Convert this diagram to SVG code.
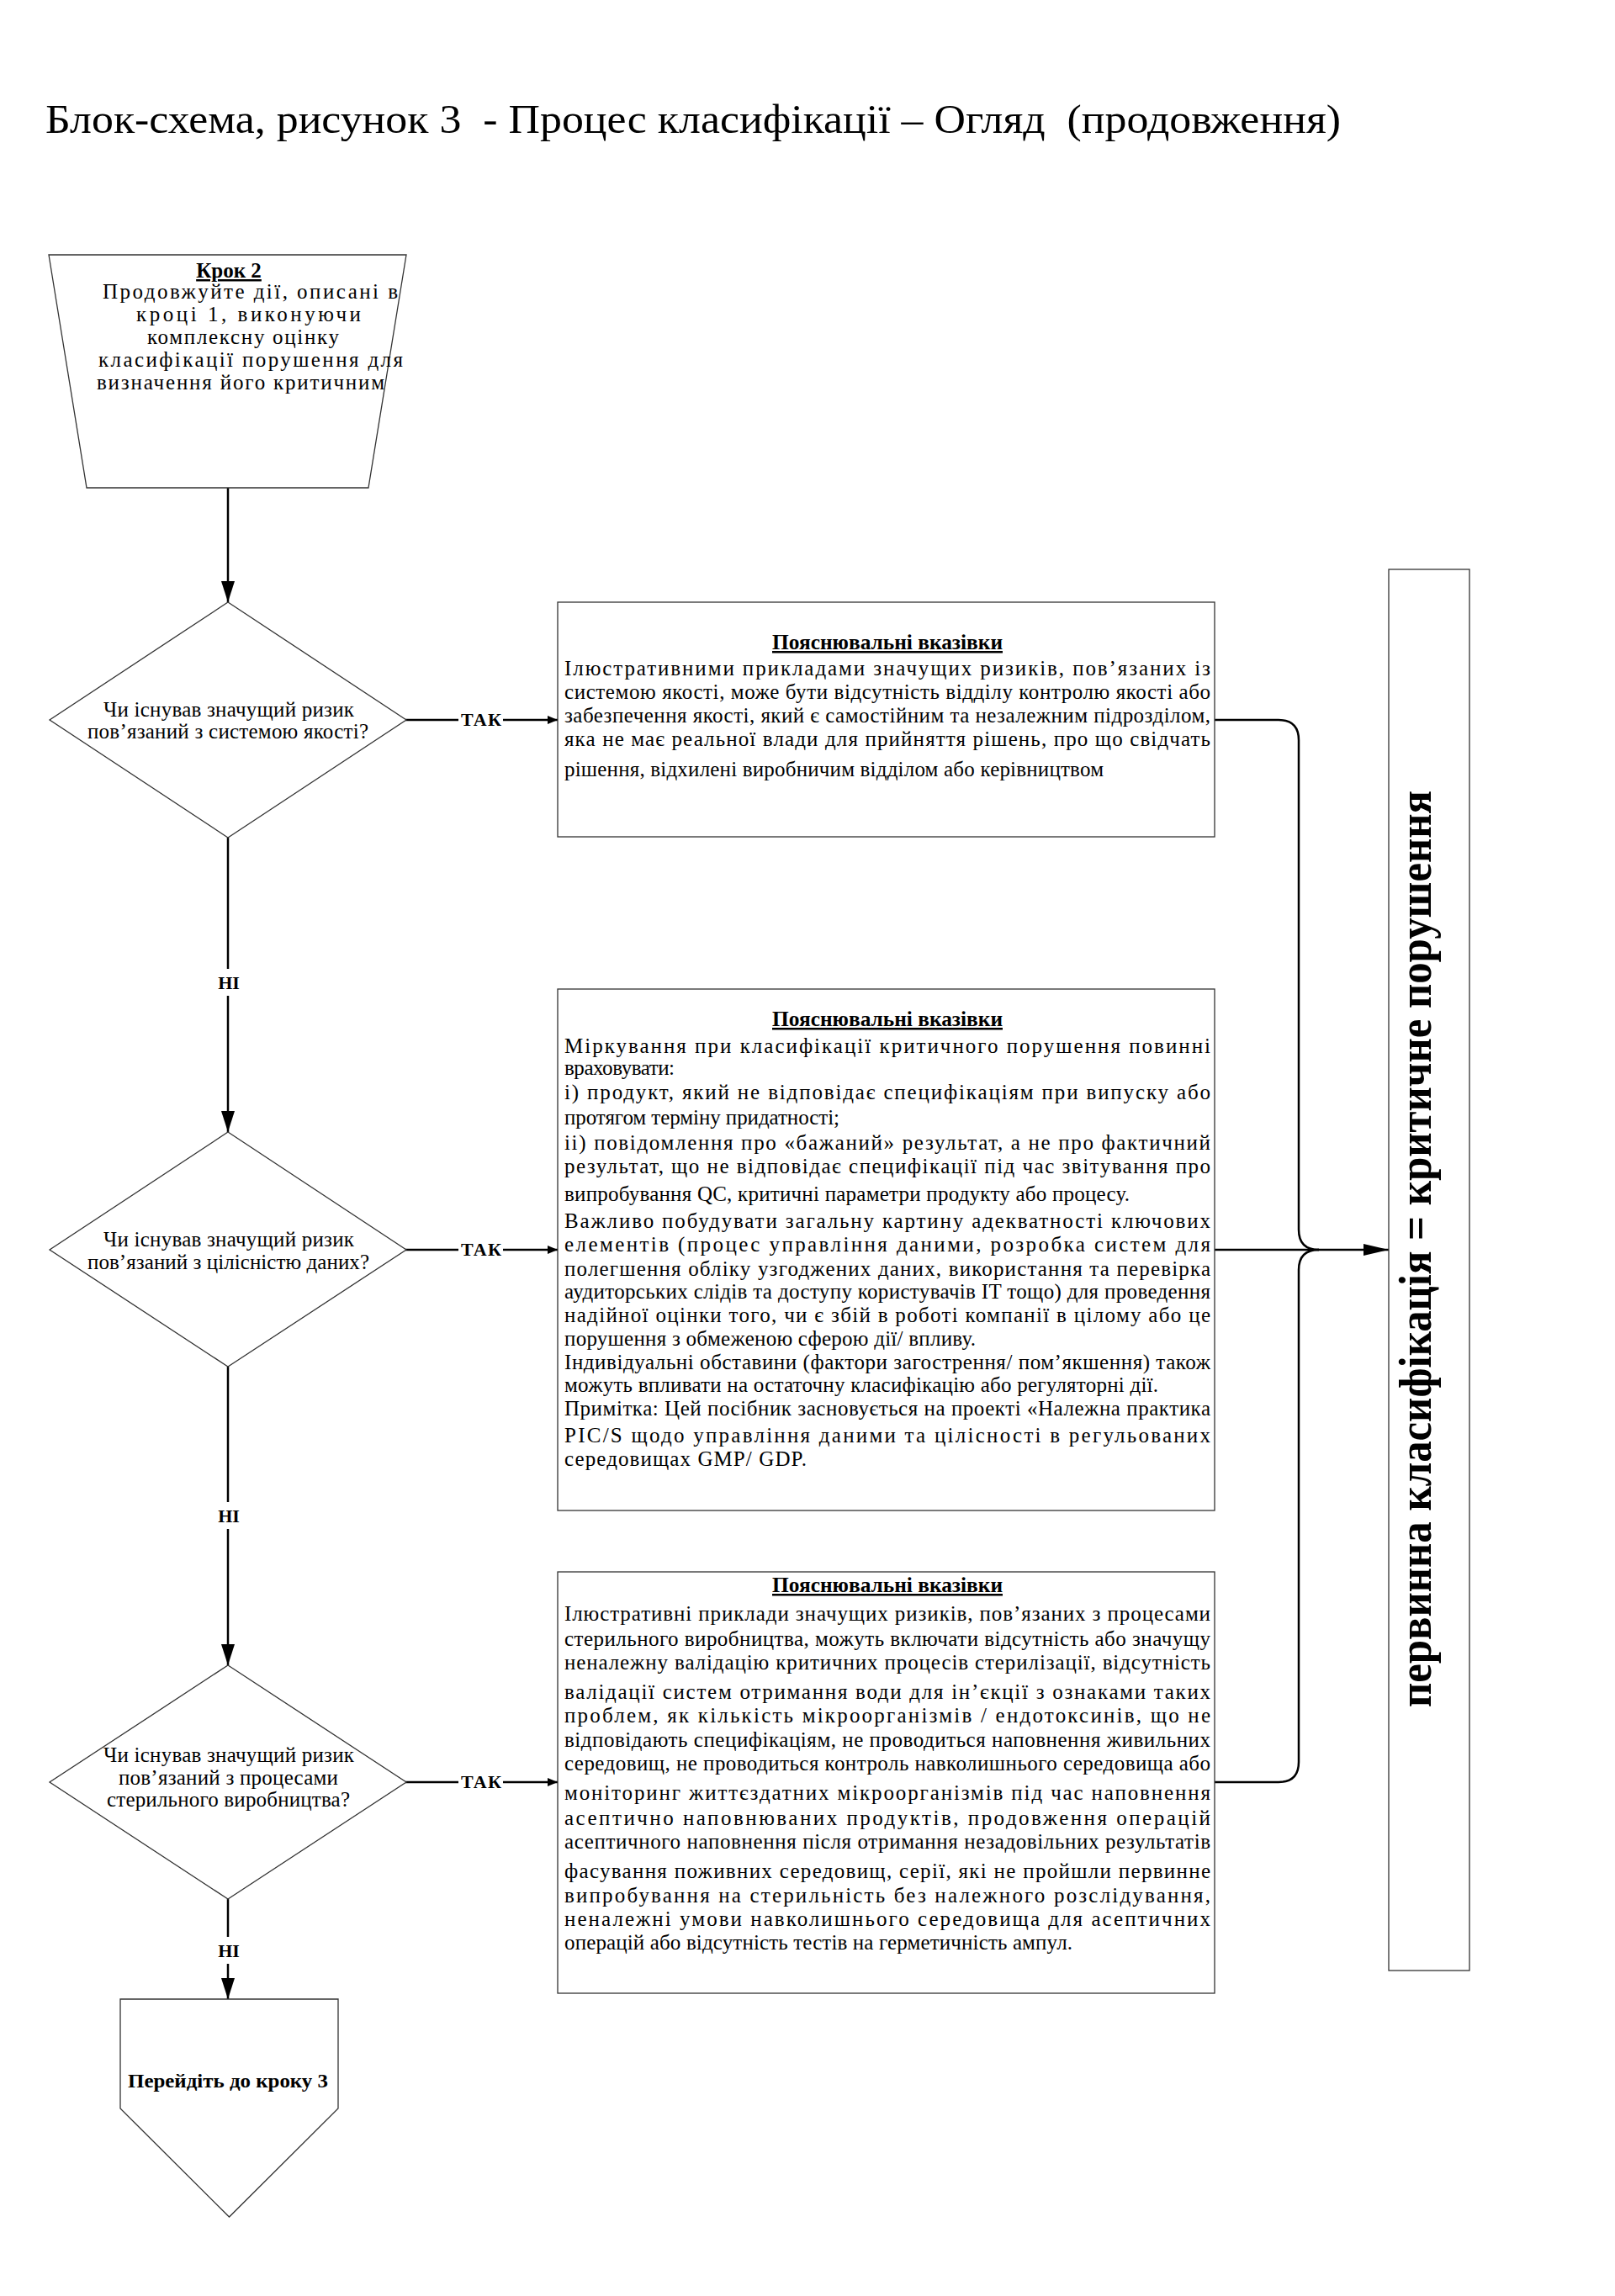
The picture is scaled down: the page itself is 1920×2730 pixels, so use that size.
<svg xmlns="http://www.w3.org/2000/svg" width="1920" height="2730" viewBox="0 0 1920 2730">
<style>
text{font-family:"Liberation Serif","Times New Roman",serif;fill:#000}
.t{font-size:25px}
.b{font-weight:bold}
.u{text-decoration:underline}
.shape{fill:#fff;stroke:#333;stroke-width:1.3}
.conn{fill:none;stroke:#000;stroke-width:2.5}
.lbl{font-size:22px;font-weight:bold}
</style>
<defs>
<marker id="av" viewBox="0 0 25 16" refX="25" refY="8" markerWidth="25" markerHeight="16" orient="auto" markerUnits="userSpaceOnUse"><path d="M0,0 L25,8 L0,16 z" fill="#000"/></marker>
<marker id="as" viewBox="0 0 12 10" refX="12" refY="5" markerWidth="12" markerHeight="10" orient="auto" markerUnits="userSpaceOnUse"><path d="M0,0 L12,5 L0,10 z" fill="#000"/></marker>
<marker id="al" viewBox="0 0 30 14" refX="30" refY="7" markerWidth="30" markerHeight="14" orient="auto" markerUnits="userSpaceOnUse"><path d="M0,0 L30,7 L0,14 z" fill="#000"/></marker>
</defs>
<rect width="1920" height="2730" fill="#fff"/>

<text id="title" x="54" y="158" font-size="49" xml:space="preserve" textLength="1540" lengthAdjust="spacingAndGlyphs">Блок-схема, рисунок 3  - Процес класифікації – Огляд  (продовження)</text>

<g id="connectors">
<path class="conn" d="M271,580 V716" marker-end="url(#av)"/>
<path class="conn" d="M482,856 H545"/>
<path class="conn" d="M598,856 H663" marker-end="url(#as)"/>
<path class="conn" d="M482,1486 H545"/>
<path class="conn" d="M598,1486 H663" marker-end="url(#as)"/>
<path class="conn" d="M482,2119 H545"/>
<path class="conn" d="M598,2119 H663" marker-end="url(#as)"/>
<text class="lbl" x="548" y="863" textLength="48">ТАК</text>
<text class="lbl" x="548" y="1493" textLength="48">ТАК</text>
<text class="lbl" x="548" y="2126" textLength="48">ТАК</text>
<path class="conn" d="M271,996 V1152"/>
<path class="conn" d="M271,1184 V1346" marker-end="url(#av)"/>
<path class="conn" d="M271,1625 V1786"/>
<path class="conn" d="M271,1818 V1980" marker-end="url(#av)"/>
<path class="conn" d="M271,2258 V2303"/>
<path class="conn" d="M271,2335 V2377" marker-end="url(#av)"/>
<text class="lbl" x="272" y="1176" text-anchor="middle">НІ</text>
<text class="lbl" x="272" y="1810" text-anchor="middle">НІ</text>
<text class="lbl" x="272" y="2327" text-anchor="middle">НІ</text>
<path class="conn" d="M1444,856 H1520 Q1544,856 1544,880 V1462 Q1544,1486 1568,1486"/>
<path class="conn" d="M1444,2119 H1520 Q1544,2119 1544,2095 V1510 Q1544,1486 1568,1486"/>
<path class="conn" d="M1444,1486 H1651" marker-end="url(#al)"/>
</g>

<g id="step2">
<polygon class="shape" points="58,303 483,303 438,580 103,580"/>
<text class="t b u" x="272" y="330" text-anchor="middle">Крок 2</text>
<text class="t" x="122" y="355" textLength="351">Продовжуйте дії, описані в</text>
<text class="t" x="162" y="382" textLength="267">кроці 1, виконуючи</text>
<text class="t" x="175" y="409" textLength="228">комплексну оцінку</text>
<text class="t" x="117" y="436" textLength="362">класифікації порушення для</text>
<text class="t" x="115" y="463" textLength="342">визначення його критичним</text>
</g>

<g id="q1">
<polygon class="shape" points="271,716 483,856 271,996 59,856"/>
<text class="t" x="123" y="852" textLength="298">Чи існував значущий ризик</text>
<text class="t" x="104" y="878" textLength="334">пов’язаний з системою якості?</text>
</g>

<g id="q2">
<polygon class="shape" points="271,1346 483,1486 271,1625 59,1486"/>
<text class="t" x="123" y="1482" textLength="298">Чи існував значущий ризик</text>
<text class="t" x="104" y="1509" textLength="335">пов’язаний з цілісністю даних?</text>
</g>

<g id="q3">
<polygon class="shape" points="271,1980 483,2119 271,2258 59,2119"/>
<text class="t" x="123" y="2095" textLength="298">Чи існував значущий ризик</text>
<text class="t" x="141" y="2122" textLength="261">пов’язаний з процесами</text>
<text class="t" x="127" y="2148" textLength="289">стерильного виробництва?</text>
</g>

<g id="step3">
<polygon class="shape" points="143,2377 402,2377 402,2507 272.5,2636 143,2507"/>
<text class="b" font-size="24" x="152" y="2482" textLength="238" lengthAdjust="spacingAndGlyphs">Перейдіть до кроку 3</text>
</g>

<g id="note1">
<rect class="shape" x="663" y="716" width="781" height="279"/>
<text class="t b u" x="918" y="772" textLength="274" lengthAdjust="spacingAndGlyphs">Пояснювальні вказівки</text>
<text class="t" x="671" y="803" textLength="768">Ілюстративними прикладами значущих ризиків, пов’язаних із</text>
<text class="t" x="671" y="831" textLength="768">системою якості, може бути відсутність відділу контролю якості або</text>
<text class="t" x="671" y="859" textLength="768">забезпечення якості, який є самостійним та незалежним підрозділом,</text>
<text class="t" x="671" y="887" textLength="768">яка не має реальної влади для прийняття рішень, про що свідчать</text>
<text class="t" x="671" y="923" textLength="641">рішення, відхилені виробничим відділом або керівництвом</text>
</g>

<g id="note2">
<rect class="shape" x="663" y="1176" width="781" height="620"/>
<text class="t b u" x="918" y="1220" textLength="274" lengthAdjust="spacingAndGlyphs">Пояснювальні вказівки</text>
<text class="t" x="671" y="1252" textLength="768">Міркування при класифікації критичного порушення повинні</text>
<text class="t" x="671" y="1278" textLength="131">враховувати:</text>
<text class="t" x="671" y="1307" textLength="768">і) продукт, який не відповідає специфікаціям при випуску або</text>
<text class="t" x="671" y="1337" textLength="327">протягом терміну придатності;</text>
<text class="t" x="671" y="1367" textLength="768">іі) повідомлення про «бажаний» результат, а не про фактичний</text>
<text class="t" x="671" y="1395" textLength="768">результат, що не відповідає специфікації під час звітування про</text>
<text class="t" x="671" y="1428" textLength="672">випробування QC, критичні параметри продукту або процесу.</text>
<text class="t" x="671" y="1460" textLength="768">Важливо побудувати загальну картину адекватності ключових</text>
<text class="t" x="671" y="1488" textLength="768">елементів (процес управління даними, розробка систем для</text>
<text class="t" x="671" y="1517" textLength="768">полегшення обліку узгоджених даних, використання та перевірка</text>
<text class="t" x="671" y="1544" textLength="768">аудиторських слідів та доступу користувачів IT тощо) для проведення</text>
<text class="t" x="671" y="1572" textLength="768">надійної оцінки того, чи є збій в роботі компанії в цілому або це</text>
<text class="t" x="671" y="1600" textLength="489">порушення з обмеженою сферою дії/ впливу.</text>
<text class="t" x="671" y="1628" textLength="768">Індивідуальні обставини (фактори загострення/ пом’якшення) також</text>
<text class="t" x="671" y="1655" textLength="706">можуть впливати на остаточну класифікацію або регуляторні дії.</text>
<text class="t" x="671" y="1683" textLength="768">Примітка: Цей посібник засновується на проекті «Належна практика</text>
<text class="t" x="671" y="1715" textLength="768">PIC/S щодо управління даними та цілісності в регульованих</text>
<text class="t" x="671" y="1743" textLength="288">середовищах GMP/ GDP.</text>
</g>

<g id="note3">
<rect class="shape" x="663" y="1869" width="781" height="501"/>
<text class="t b u" x="918" y="1893" textLength="274" lengthAdjust="spacingAndGlyphs">Пояснювальні вказівки</text>
<text class="t" x="671" y="1927" textLength="768">Ілюстративні приклади значущих ризиків, пов’язаних з процесами</text>
<text class="t" x="671" y="1957" textLength="768">стерильного виробництва, можуть включати відсутність або значущу</text>
<text class="t" x="671" y="1985" textLength="768">неналежну валідацію критичних процесів стерилізації, відсутність</text>
<text class="t" x="671" y="2020" textLength="768">валідації систем отримання води для ін’єкції з ознаками таких</text>
<text class="t" x="671" y="2048" textLength="768">проблем, як кількість мікроорганізмів / ендотоксинів, що не</text>
<text class="t" x="671" y="2077" textLength="768">відповідають специфікаціям, не проводиться наповнення живильних</text>
<text class="t" x="671" y="2105" textLength="768">середовищ, не проводиться контроль навколишнього середовища або</text>
<text class="t" x="671" y="2140" textLength="768">моніторинг життєздатних мікроорганізмів під час наповнення</text>
<text class="t" x="671" y="2170" textLength="768">асептично наповнюваних продуктів, продовження операцій</text>
<text class="t" x="671" y="2198" textLength="768">асептичного наповнення після отримання незадовільних результатів</text>
<text class="t" x="671" y="2233" textLength="768">фасування поживних середовищ, серії, які не пройшли первинне</text>
<text class="t" x="671" y="2262" textLength="768">випробування на стерильність без належного розслідування,</text>
<text class="t" x="671" y="2290" textLength="768">неналежні умови навколишнього середовища для асептичних</text>
<text class="t" x="671" y="2318" textLength="604">операцій або відсутність тестів на герметичність ампул.</text>
</g>

<g id="result">
<rect class="shape" x="1651" y="677" width="96" height="1666" stroke-width="2"/>
<text class="b" font-size="54" transform="translate(1701,1485) rotate(-90)" text-anchor="middle" textLength="1090" lengthAdjust="spacingAndGlyphs">первинна класифікація = критичне порушення</text>
</g>
</svg>
